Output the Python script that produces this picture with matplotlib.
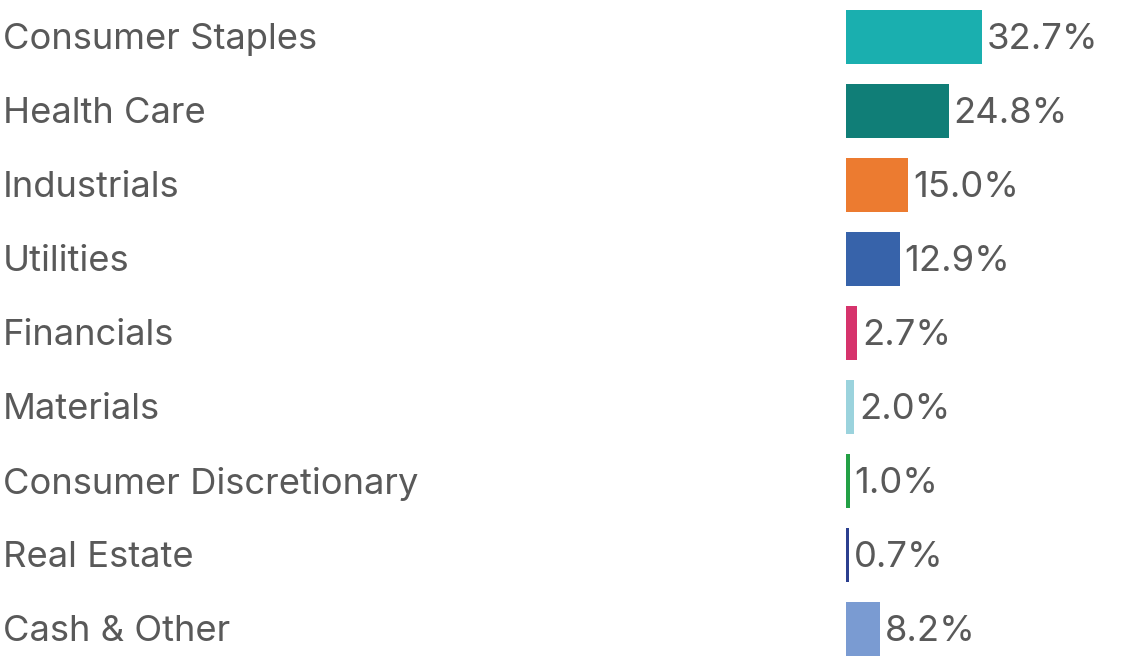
import matplotlib.pyplot as plt
import matplotlib.transforms as mtransforms

sectors = ['Consumer Staples', 'Health Care', 'Industrials', 'Utilities', 'Financials',
           'Materials', 'Consumer Discretionary', 'Real Estate', 'Cash & Other']
weights = [32.7, 24.8, 15.0, 12.9, 2.7, 2.0, 1.0, 0.7, 8.2]
colors = ['#1AAFAF', '#107E77', '#EC7B30', '#3763AA', '#D6336C',
          '#9BD3DD', '#23A045', '#2B3F8F', '#7A9BD2']

plt.rcParams['font.family'] = ['Inter', 'DejaVu Sans']
text_color = '#595959'

fig = plt.figure(figsize=(11.25, 6.67), dpi=100)
ax = fig.add_axes([846 / 1125, 0, 1 - 846 / 1125, 1])
ax.axis('off')

rows = list(range(len(sectors)))
ax.barh(rows, weights, height=0.74, color=colors)
ax.set_xlim(0, 279 / 4.16)
ax.set_ylim(8.514, -0.5)

trans = mtransforms.blended_transform_factory(fig.transFigure, ax.transData)
for i, (name, w) in enumerate(zip(sectors, weights)):
    ax.text(3 / 1125, i + 0.04, name, transform=trans, ha='left', va='center',
            fontsize=26.2, color=text_color)
    ax.text(w + 1.1, i + 0.04, f'{w:.1f}%', ha='left', va='center',
            fontsize=26.2, color=text_color)

fig.savefig('out.png', dpi=100)
